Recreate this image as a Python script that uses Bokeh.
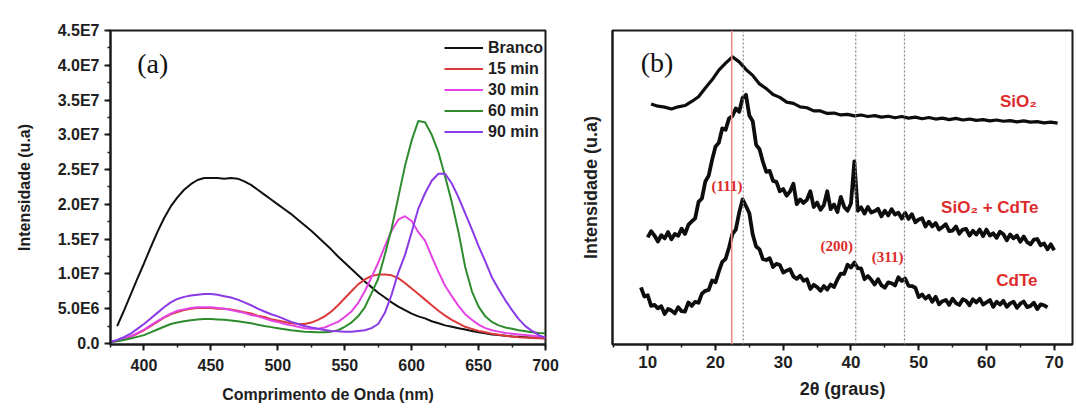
from bokeh.plotting import figure
from bokeh.layouts import row
from bokeh.models import Span, Label, SingleIntervalTicker, FixedTicker, Range1d
from bokeh.embed import file_html
from bokeh.resources import INLINE

# ---------------- Panel (a): photoluminescence spectra ----------------
wl_start, wl_step = 375, 5          # wavelength grid (nm)
branco = [float("nan"), 2.5, 4.7, 7.0, 9.3, 11.5, 13.8, 16.0, 18.0, 19.7,
          21.0, 22.1, 22.9, 23.5, 23.8, 23.8, 23.8, 23.7, 23.8, 23.7,
          23.3, 22.8, 22.1, 21.4, 20.7, 20.0, 19.3, 18.6, 17.8, 17.0,
          16.2, 15.3, 14.4, 13.5, 12.5, 11.6, 10.7, 9.8, 8.9, 8.1,
          7.3, 6.6, 5.9, 5.3, 4.8, 4.3, 3.9, 3.6, 3.2, 2.9,
          2.6, 2.4, 2.2, 2.0, 1.8, 1.6, 1.45, 1.3, 1.2, 1.1,
          1.0, 0.95, 0.9, 0.85, 0.8, 0.75]
min15 = [0.2, 0.4, 0.7, 1.0, 1.4, 1.9, 2.5, 3.1, 3.7, 4.2,
         4.5, 4.8, 5.0, 5.1, 5.1, 5.1, 5.0, 5.0, 4.9, 4.7,
         4.5, 4.3, 4.0, 3.8, 3.5, 3.3, 3.1, 2.9, 2.8, 2.8,
         3.0, 3.4, 3.9, 4.6, 5.5, 6.5, 7.5, 8.5, 9.2, 9.7,
         9.9, 9.9, 9.8, 9.4, 8.7, 7.9, 7.1, 6.3, 5.5, 4.7,
         4.0, 3.4, 2.9, 2.4, 2.1, 1.8, 1.6, 1.4, 1.25, 1.1,
         1.0, 0.9, 0.85, 0.8, 0.75, 0.7]
min30 = [0.2, 0.4, 0.7, 1.0, 1.5, 2.0, 2.6, 3.2, 3.8, 4.3,
         4.7, 4.9, 5.1, 5.2, 5.2, 5.2, 5.1, 5.0, 4.8, 4.6,
         4.4, 4.1, 3.9, 3.6, 3.3, 3.1, 2.8, 2.6, 2.4, 2.2,
         2.1, 2.1, 2.3, 2.7, 3.1, 3.8, 4.6, 5.8, 7.5, 9.5,
         11.6, 14.0, 16.2, 17.8, 18.3, 17.6, 16.0, 14.8, 12.5, 10.3,
         8.3, 6.8, 5.4, 4.2, 3.4, 2.7, 2.2, 1.9, 1.7, 1.5,
         1.4, 1.3, 1.2, 1.1, 1.0, 0.9]
min60 = [0.2, 0.3, 0.5, 0.7, 0.95, 1.2, 1.6, 2.0, 2.4, 2.8,
         3.0, 3.2, 3.35, 3.45, 3.5, 3.5, 3.45, 3.4, 3.3, 3.2,
         3.05, 2.9, 2.7, 2.5, 2.35, 2.2, 2.05, 1.9, 1.8, 1.7,
         1.65, 1.6, 1.6, 1.7, 1.9, 2.4, 3.0, 3.9, 5.2, 7.2,
         9.3, 12.8, 16.5, 21.0, 25.5, 29.2, 32.0, 31.8, 30.0, 27.5,
         24.0, 20.3, 16.0, 11.0, 7.5, 5.3, 3.9, 3.1, 2.6, 2.3,
         2.1, 1.9, 1.75, 1.6, 1.5, 1.45]
min90 = [0.2, 0.5, 0.9, 1.4, 2.1, 2.8, 3.6, 4.4, 5.2, 5.9,
         6.4, 6.7, 6.9, 7.0, 7.1, 7.1, 7.0, 6.8, 6.6, 6.3,
         5.9, 5.5, 5.0, 4.6, 4.2, 3.9, 3.5, 3.1, 2.8, 2.5,
         2.3, 2.1, 1.95, 1.8, 1.75, 1.7, 1.7, 1.8, 1.9, 2.2,
         2.8, 4.4, 7.0, 10.2, 12.7, 16.0, 19.4, 21.6, 23.4, 24.4,
         24.4, 23.0, 21.0, 18.7, 16.4, 14.0, 11.8, 9.5, 7.8, 6.2,
         4.8, 3.5, 2.5, 1.8, 1.2, 0.8]
series_names = ["Branco", "15 min", "30 min", "60 min", "90 min"]
series_colors = ["#111111", "#dc3a3a", "#e444e4", "#2e8c2e", "#8a3ae6"]
ytick_values_a = [0, 5, 10, 15, 20, 25, 30, 35, 40, 45]   # in units of 1E6
ytick_labels_a = ["0.0", "5.0E6", "1.0E7", "1.5E7", "2.0E7", "2.5E7",
                  "3.0E7", "3.5E7", "4.0E7", "4.5E7"]

# ---------------- Panel (b): XRD patterns (arbitrary units) ----------------
sio2_start, sio2_step = 10.5, 1.0
sio2 = [76.6, 75.9, 75.6, 75.0, 75.7, 76.1, 77.4, 78.9, 81.7, 84.3,
        87.4, 89.6, 91.6, 90.0, 87.6, 85.7, 83.0, 81.5, 79.6, 78.7,
        77.2, 76.8, 75.7, 75.4, 74.4, 74.4, 73.6, 73.7, 73.1, 73.3,
        72.8, 73.1, 72.6, 72.9, 72.4, 72.7, 72.2, 72.6, 72.1, 72.4,
        71.9, 72.3, 71.8, 72.1, 71.6, 72.0, 71.5, 71.8, 71.4, 71.6,
        71.2, 71.5, 71.1, 71.3, 70.9, 71.2, 70.8, 71.0, 70.6, 70.8, 70.5]
mix_start, mix_step = 10.0, 0.5
sio2_cdte = [34.1, 36.1, 34.7, 32.8, 34.8, 33.8, 35.8, 33.5, 35.2, 34.6,
             36.9, 35.2, 38.1, 39.2, 40.2, 45.4, 46.5, 51.9, 53.8, 58.8,
             63.0, 64.3, 68.8, 68.4, 72.0, 72.8, 75.2, 74.1, 78.5, 79.5,
             72.9, 71.1, 63.6, 62.2, 58.2, 55.0, 55.3, 52.1, 51.8, 48.8,
             49.5, 47.4, 48.7, 51.2, 44.7, 46.2, 45.1, 46.1, 48.8, 43.8,
             45.2, 42.9, 44.4, 48.8, 43.1, 44.6, 42.2, 47.0, 43.8, 42.6,
             44.9, 58.3, 42.6, 43.7, 41.7, 43.8, 42.0, 42.5, 43.2, 40.8,
             42.6, 41.1, 43.1, 41.4, 42.0, 40.1, 41.9, 40.0, 41.5, 38.9,
             39.8, 40.2, 37.6, 39.1, 37.6, 38.7, 36.6, 37.4, 38.3, 36.1,
             36.3, 37.6, 35.3, 36.6, 36.8, 34.7, 36.2, 35.0, 36.6, 34.5,
             36.6, 34.7, 35.4, 34.0, 35.9, 35.1, 33.2, 35.0, 33.8, 34.7,
             32.7, 34.4, 32.6, 31.9, 33.4, 33.6, 31.6, 32.2, 30.3, 31.9,
             30.0]
cdte_start, cdte_step = 9.0, 0.5
cdte = [18.2, 15.3, 15.7, 12.3, 12.6, 11.5, 12.2, 9.7, 11.3, 10.8,
        9.9, 11.9, 10.6, 10.5, 13.4, 12.3, 13.6, 13.3, 16.2, 17.1,
        17.4, 20.4, 19.8, 23.3, 26.3, 27.3, 30.9, 35.2, 36.6, 42.0,
        46.2, 44.1, 41.8, 35.0, 31.2, 30.3, 27.2, 26.9, 27.5, 24.7,
        25.7, 25.3, 22.9, 23.5, 24.0, 21.7, 20.9, 21.9, 20.3, 20.8,
        17.7, 19.0, 18.3, 17.1, 18.6, 17.5, 19.1, 18.3, 20.7, 22.6,
        22.5, 25.4, 24.5, 26.1, 24.3, 24.2, 20.8, 21.8, 20.6, 19.1,
        20.8, 18.8, 18.1, 19.8, 19.5, 18.8, 21.4, 20.2, 21.0, 18.7,
        18.6, 18.1, 15.1, 15.9, 14.6, 15.5, 13.6, 15.2, 12.8, 13.8,
        14.2, 12.6, 14.6, 13.2, 12.6, 14.4, 13.9, 12.5, 14.4, 13.4,
        14.6, 12.7, 13.4, 14.2, 12.0, 13.6, 12.7, 13.9, 12.0, 13.1,
        13.6, 11.7, 13.0, 13.7, 11.9, 12.3, 13.3, 11.3, 12.8, 12.5,
        11.8]
red_line_pos = [22.4]
dotted_line_pos = [24.1, 40.7, 47.9]
curve_labels = ["SiO\u2082", "SiO\u2082 + CdTe", "CdTe"]
curve_label_x = [64.7, 60.5, 64.5]
curve_label_y = [77.4, 43.7, 20.4]
miller_labels = ["(111)", "(200)", "(311)"]
miller_x = [21.7, 37.9, 45.4]
miller_y = [50.5, 31.3, 27.9]

SANS = "Liberation Sans"
SERIF = "Liberation Serif"
TXT = "#1e1e1e"
RED = "#dd2b2b"


def style_axes(p, tick_size, label_size):
    for ax in (p.xaxis[0], p.yaxis[0]):
        ax.axis_line_width = 2
        ax.axis_line_color = "#1a1a1a"
        ax.major_tick_line_width = 2
        ax.major_tick_line_color = "#1a1a1a"
        ax.major_tick_in = 0
        ax.major_tick_out = 6
        ax.minor_tick_in = 0
        ax.minor_tick_out = 3
        ax.minor_tick_line_width = 1.5
        ax.minor_tick_line_color = "#1a1a1a"
        ax.major_label_text_font = SANS
        ax.major_label_text_font_style = "bold"
        ax.major_label_text_font_size = tick_size
        ax.major_label_text_color = TXT
        ax.axis_label_text_font = SANS
        ax.axis_label_text_font_style = "bold"
        ax.axis_label_text_font_size = label_size
        ax.axis_label_text_color = TXT
    p.xgrid.visible = False
    p.ygrid.visible = False
    p.outline_line_color = "#1a1a1a"
    p.outline_line_width = 2
    p.background_fill_color = "white"
    p.border_fill_color = "white"


# ---------------- build panel (a) ----------------
pa = figure(width=575, height=412, output_backend="svg", toolbar_location=None,
            x_range=Range1d(375, 700), y_range=Range1d(-0.15, 45),
            min_border_left=110, min_border_right=30, min_border_top=24,
            min_border_bottom=68)
wl = [wl_start + wl_step * i for i in range(len(branco))]
for ys, name, col in zip([branco, min15, min30, min60, min90], series_names, series_colors):
    pa.line(wl, ys, line_color=col, line_width=2, legend_label=name)

style_axes(pa, "16px", "16px")
pa.xaxis.ticker = SingleIntervalTicker(interval=50, num_minor_ticks=2)
pa.yaxis.ticker = SingleIntervalTicker(interval=5, num_minor_ticks=2)
pa.yaxis.major_label_overrides = {v: s for v, s in zip(ytick_values_a, ytick_labels_a)}
pa.xaxis.axis_label = "Comprimento de Onda (nm)"
pa.yaxis.axis_label = "Intensidade (u.a)"
pa.xaxis.major_label_standoff = 8
pa.xaxis.axis_label_standoff = 12
pa.yaxis.major_label_standoff = 5
pa.yaxis.axis_label_standoff = 22

lg = pa.legend[0]
lg.location = (334, 202)
lg.padding = 0
lg.margin = 0
lg.spacing = 0
lg.border_line_color = None
lg.background_fill_alpha = 0
lg.label_height = 21
lg.glyph_height = 21
lg.glyph_width = 39
lg.label_standoff = 5
lg.label_text_font = SANS
lg.label_text_font_style = "bold"
lg.label_text_font_size = "16px"
lg.label_text_color = TXT

pa.add_layout(Label(x=395, y=40.2, text="(a)", text_font=SERIF, text_font_size="28px",
                    text_baseline="middle", text_color="#111111"))

# ---------------- build panel (b) ----------------
pb = figure(width=499, height=412, output_backend="svg", toolbar_location=None,
            x_range=Range1d(4.8, 72.7), y_range=Range1d(0, 100),
            min_border_left=37, min_border_right=2, min_border_top=30,
            min_border_bottom=59)

for pos in red_line_pos:
    pb.add_layout(Span(location=pos, dimension="height", line_color="#f08a8a", line_width=1.5))
for pos in dotted_line_pos:
    pb.add_layout(Span(location=pos, dimension="height", line_color="#8a8a8a",
                       line_width=1.2, line_dash="2 2"))

th_sio2 = [sio2_start + sio2_step * i for i in range(len(sio2))]
th_mix = [mix_start + mix_step * i for i in range(len(sio2_cdte))]
th_cdte = [cdte_start + cdte_step * i for i in range(len(cdte))]
for th, ys, w in [(th_sio2, sio2, 3.2), (th_mix, sio2_cdte, 3.8), (th_cdte, cdte, 3.8)]:
    pb.line(th, ys, line_color="#0d0d0d", line_width=w, line_join="round")

style_axes(pb, "17px", "18px")
pb.xaxis.ticker = SingleIntervalTicker(interval=10, num_minor_ticks=2)
pb.yaxis.ticker = FixedTicker(ticks=[])
pb.xaxis.axis_label = "2\u03b8 (graus)"
pb.yaxis.axis_label = "Intensidade (u.a)"
pb.xaxis.major_label_standoff = 5
pb.xaxis.axis_label_standoff = 8
pb.yaxis.axis_label_standoff = 12

for t, x, y in zip(curve_labels, curve_label_x, curve_label_y):
    pb.add_layout(Label(x=x, y=y, text=t, text_font=SANS, text_font_style="bold",
                        text_font_size="17px", text_color=RED, text_align="center",
                        text_baseline="middle"))
for t, x, y in zip(miller_labels, miller_x, miller_y):
    pb.add_layout(Label(x=x, y=y, text=t, text_font=SERIF, text_font_style="bold",
                        text_font_size="15px", text_color=RED, text_align="center",
                        text_baseline="middle"))
pb.add_layout(Label(x=8.96, y=89.8, text="(b)", text_font=SERIF, text_font_size="28px",
                    text_baseline="middle", text_color="#111111"))

layout = row(pa, pb)
open("out.html", "w").write(file_html(layout, INLINE))
